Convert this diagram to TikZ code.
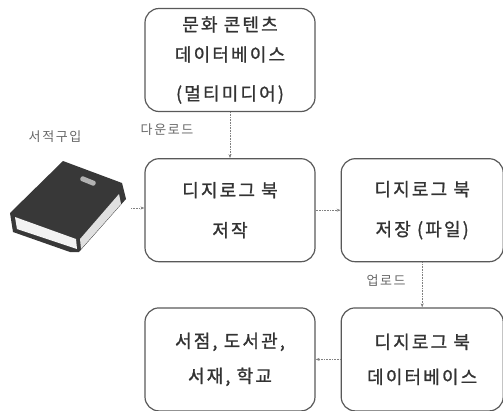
\documentclass[tikz,border=0pt]{standalone}
\usepackage{fontspec}
\setmainfont{Noto Sans CJK KR}
\newfontfamily\krwide{Noto Sans CJK KR}[LetterSpace=12]
\newfontfamily\krbox{Noto Sans CJK KR}[LetterSpace=12, FakeBold=1.2]
\usetikzlibrary{positioning,arrows.meta}

\begin{document}
\begin{tikzpicture}
    [x=1pt, y=-1pt, node distance=25pt,
     box/.style={draw=black!65, line width=1.2pt, rounded corners=14pt, align=center,
                 text=black!80, font=\krbox\fontsize{18}{30}\selectfont,
                 minimum width=170pt, minimum height=103pt, inner sep=0pt},
     flow/.style={densely dotted, black!50, line width=0.6pt, -{Stealth[length=4pt,width=3pt]}},
     note/.style={text=black!60, font=\krwide\fontsize{13}{15}\selectfont}]
    \useasboundingbox (0,0) rectangle (503,410);

    % boxes
    \node[box] (culture) at (230,60) {문화 콘텐츠\\데이터베이스\\[9pt](멀티미디어)};
    \node[box, below=46pt of culture] (write) {디지로그 북\\[10pt]저작};
    \node[box, right=25pt of write, minimum width=162pt] (save) {디지로그 북\\[10pt]저장 (파일)};
    \node[box, below=45pt of save, minimum width=162pt] (dbase) {디지로그 북\\[5pt]데이터베이스};
    \node[box, below=45pt of write] (shop) {서점, 도서관,\\[5pt]서재, 학교};

    % book
    \fill[black!78] (63,161) -- (122,183) -- (126,199) -- (79,252) -- (70,252)
        -- (13,232) -- (10,213) -- cycle;
    \fill[black!5] (15,217) -- (76,239) -- (77,249) -- (17,229) -- cycle;
    \fill[black!12] (80,239) -- (119,194) -- (121,204) -- (81,249) -- cycle;
    \fill[black!30, rotate around={-22:(88,181)}, rounded corners=2pt]
        (80,178.5) rectangle (96,183.5);
    \coordinate (book) at (131,208);

    % labels
    \node[note] (buy) at (55,137) {서적구입};
    \node[note] (down) at (167,130) {다운로드};
    \node[note] (up) at (386,281) {업로드};

    % arrows
    \draw[flow] (culture) -- (write);
    \draw[flow] (book) -- (book -| write.west);
    \draw[flow] (write) -- (save);
    \draw[flow] (save) -- (dbase);
    \draw[flow] (dbase) -- (shop);
\end{tikzpicture}
\end{document}
